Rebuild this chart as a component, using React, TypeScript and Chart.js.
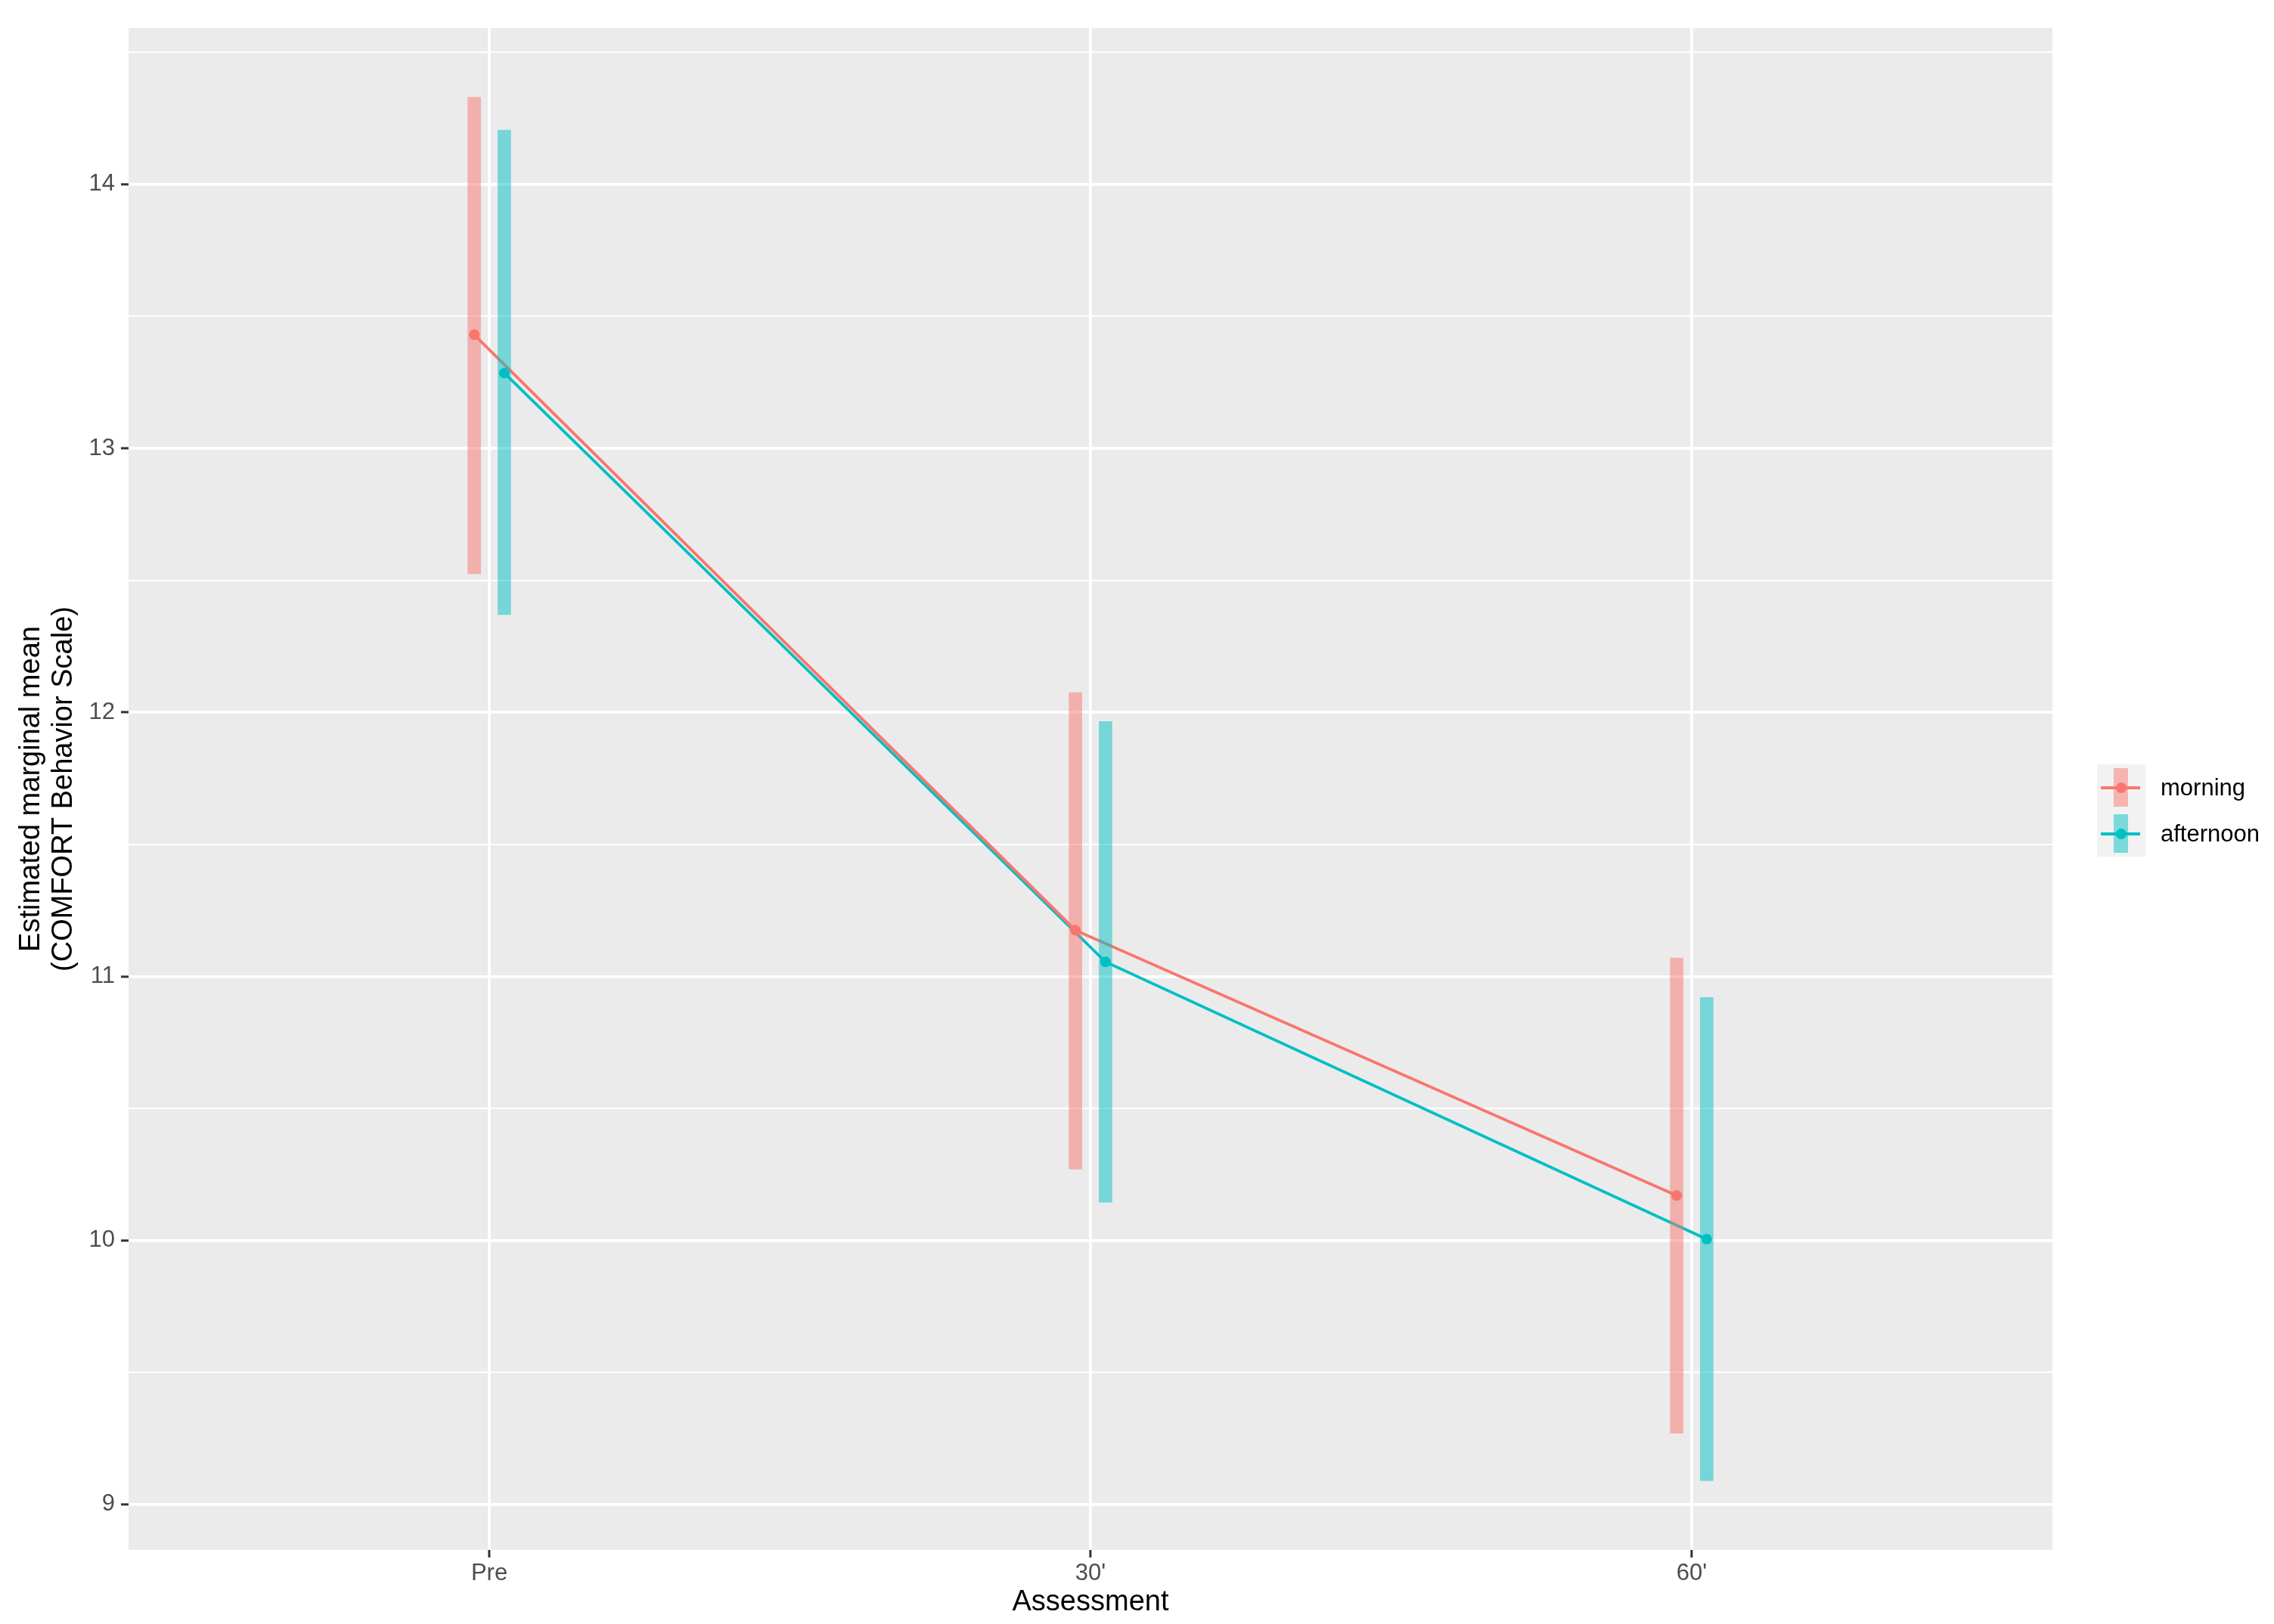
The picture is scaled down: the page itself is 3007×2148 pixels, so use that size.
import React, { useEffect, useRef } from "react";
import { Chart, registerables } from "chart.js";

Chart.register(...registerables);

// ---- data ----
const CATEGORIES = ["Pre", "30'", "60'"];
const GROUPS = ["morning", "afternoon"];
const MORNING_MEAN = [13.43, 11.175, 10.17];
const MORNING_LOWER = [12.525, 10.27, 9.27];
const MORNING_UPPER = [14.33, 12.075, 11.07];
const AFTERNOON_MEAN = [13.285, 11.055, 10.005];
const AFTERNOON_LOWER = [12.37, 10.145, 9.09];
const AFTERNOON_UPPER = [14.205, 11.965, 10.92];
const Y_TICKS = [9, 10, 11, 12, 13, 14];
const Y_MINOR = [9.5, 10.5, 11.5, 12.5, 13.5, 14.5];
const X_TITLE = "Assessment";
const Y_TITLE = ["Estimated marginal mean", "(COMFORT Behavior Scale)"];

// ---- style ----
const COLORS = ["#F8766D", "#00BFC4"];
const BAR_COLORS = ["rgba(248,118,109,0.5)", "rgba(0,191,196,0.5)"];
const DODGE = 0.025;
const FONT = "'Liberation Sans', Arial, Helvetica, sans-serif";
const W = 3007;
const H = 2148;

const allLow = [...MORNING_LOWER, ...AFTERNOON_LOWER];
const allHigh = [...MORNING_UPPER, ...AFTERNOON_UPPER];
const dMin = Math.min(...allLow);
const dMax = Math.max(...allHigh);
const Y_MIN = dMin - 0.05 * (dMax - dMin);
const Y_MAX = dMax + 0.05 * (dMax - dMin);

const bgPlugin = {
  id: "panelBg",
  beforeDraw(chart: any) {
    const { ctx, chartArea } = chart;
    ctx.save();
    ctx.fillStyle = "#ffffff";
    ctx.fillRect(0, 0, chart.width, chart.height);
    ctx.fillStyle = "#EBEBEB";
    ctx.fillRect(chartArea.left, chartArea.top, chartArea.right - chartArea.left, chartArea.bottom - chartArea.top);
    ctx.restore();
  },
};

export default function App() {
  const ref = useRef<HTMLCanvasElement | null>(null);

  useEffect(() => {
    if (!ref.current) return;
    const means = [MORNING_MEAN, AFTERNOON_MEAN];
    const lows = [MORNING_LOWER, AFTERNOON_LOWER];
    const highs = [MORNING_UPPER, AFTERNOON_UPPER];
    const offs = [-DODGE, DODGE];

    const barSets = GROUPS.map((g, gi) => ({
      type: "bar" as const,
      label: g + " CI",
      data: CATEGORIES.map((_, i) => ({ x: i + offs[gi], y: [lows[gi][i], highs[gi][i]] })),
      backgroundColor: BAR_COLORS[gi],
      borderWidth: 0,
      barThickness: 17,
      grouped: false,
      order: 0,
    }));
    const lineSets = GROUPS.map((g, gi) => ({
      type: "line" as const,
      label: g,
      data: CATEGORIES.map((_, i) => ({ x: i + offs[gi], y: means[gi][i] })),
      borderColor: COLORS[gi],
      backgroundColor: COLORS[gi],
      borderWidth: 3.75,
      pointRadius: 7,
      pointBorderWidth: 0,
      pointBackgroundColor: COLORS[gi],
      tension: 0,
      fill: false,
      order: 1,
    }));

    const chart = new Chart(ref.current, {
      type: "bar",
      data: { datasets: [...barSets, ...lineSets] as any },
      plugins: [bgPlugin],
      options: {
        animation: false,
        responsive: false,
        maintainAspectRatio: false,
        layout: { padding: { left: 0, right: 293, top: 37, bottom: 0 } },
        plugins: { legend: { display: false }, tooltip: { enabled: false } },
        scales: {
          x: {
            type: "linear",
            min: -0.6,
            max: CATEGORIES.length - 1 + 0.6,
            offset: false,
            afterFit: (s: any) => { s.height = 98; },
            afterBuildTicks: (s: any) => { s.ticks = CATEGORIES.map((_, i) => ({ value: i })); },
            grid: {
              offset: false,
              color: "#ffffff",
              lineWidth: 3.75,
              tickColor: "#333333",
              tickLength: 10,
              tickWidth: 3,
            },
            border: { display: false },
            ticks: {
              autoSkip: false,
              maxRotation: 0,
              padding: 3,
              color: "#4D4D4D",
              font: { family: FONT, size: 31 },
              callback: (v: any) => CATEGORIES[Math.round(Number(v))] ?? "",
            },
            title: {
              display: true,
              text: X_TITLE,
              color: "#000000",
              font: { family: FONT, size: 38, lineHeight: 1.2 },
              padding: { top: 0, bottom: 6 },
            },
          },
          y: {
            type: "linear",
            min: Y_MIN,
            max: Y_MAX,
            afterFit: (s: any) => { s.width = 170; },
            afterBuildTicks: (s: any) => {
              s.ticks = [...Y_TICKS, ...Y_MINOR].sort((a, b) => a - b).map((v) => ({ value: v }));
            },
            grid: {
              color: "#ffffff",
              lineWidth: (c: any) => (Y_TICKS.includes(c.tick?.value) ? 3.75 : 1.9),
              tickColor: (c: any) => (Y_TICKS.includes(c.tick?.value) ? "#333333" : "rgba(0,0,0,0)"),
              tickLength: 10,
              tickWidth: 3,
            },
            border: { display: false },
            ticks: {
              autoSkip: false,
              padding: 8,
              color: "#4D4D4D",
              font: { family: FONT, size: 31 },
              callback: (v: any) => (Y_TICKS.includes(Number(v)) ? String(v) : ""),
            },
            title: {
              display: true,
              text: Y_TITLE,
              color: "#000000",
              font: { family: FONT, size: 38, lineHeight: 43 / 38 },
              padding: { top: 20, bottom: 0 },
            },
          },
        },
      } as any,
    });
    return () => chart.destroy();
  }, []);

  const legendTop = 1011;
  const rowH = 61;

  return (
    <div style={{ position: "absolute", left: 0, top: 0, width: W, height: H, background: "#fff", overflow: "hidden" }}>
      <canvas ref={ref} width={W} height={H} style={{ width: W, height: H, display: "block" }} />
      {GROUPS.map((g, gi) => (
        <div
          key={g}
          style={{
            position: "absolute",
            left: 2773,
            top: legendTop + gi * rowH,
            height: rowH,
            display: "flex",
            alignItems: "center",
          }}
        >
          <div style={{ position: "relative", width: 64, height: rowH, background: "#F2F2F2" }}>
            <div style={{ position: "absolute", left: 22, top: 5, width: 19, height: 51, background: BAR_COLORS[gi] }} />
            <div style={{ position: "absolute", left: 5, top: 29, width: 52, height: 3.75, background: COLORS[gi] }} />
            <div style={{ position: "absolute", left: 24.5, top: 23.5, width: 14, height: 14, borderRadius: "50%", background: COLORS[gi] }} />
          </div>
          <div style={{ marginLeft: 20, fontFamily: FONT, fontSize: 31, color: "#000", lineHeight: "31px", whiteSpace: "nowrap" }}>{g}</div>
        </div>
      ))}
    </div>
  );
}
